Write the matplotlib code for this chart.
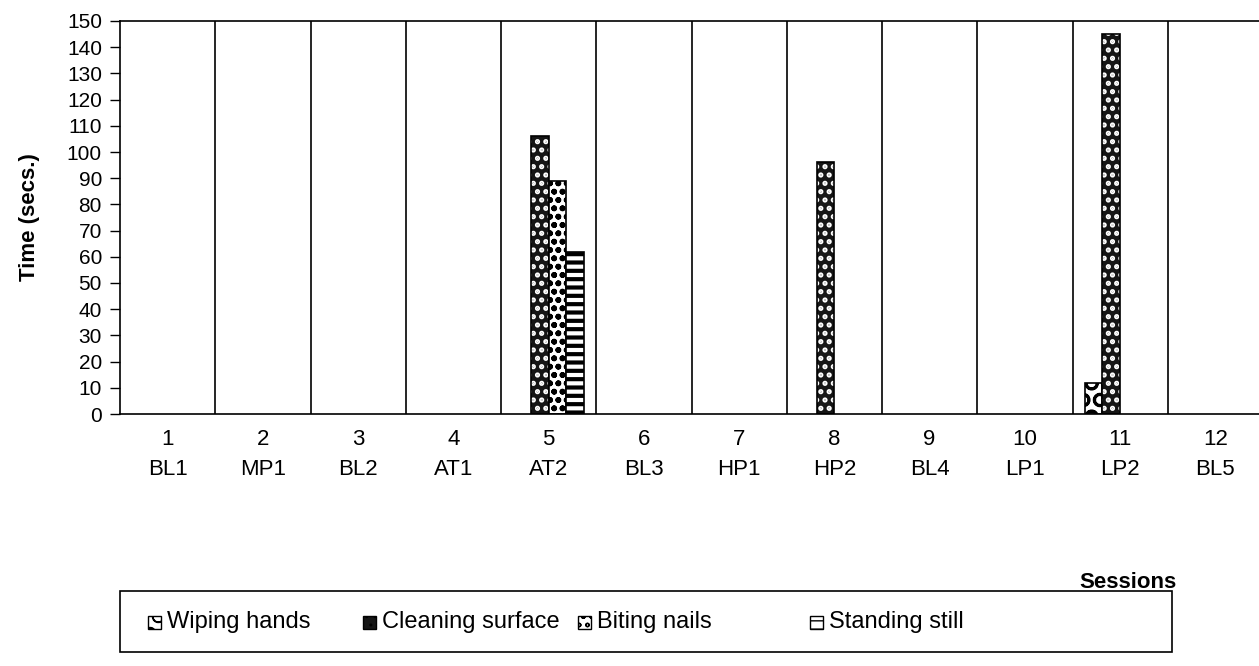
import numpy as np
import matplotlib.pyplot as plt
import matplotlib.patches as mpatches

plt.rcParams['font.family'] = ['Liberation Sans', 'DejaVu Sans']

# ---------------------------------
# Data
# ---------------------------------

session_nums = ["1", "2", "3", "4", "5", "6", "7", "8", "9", "10", "11", "12"]
session_names = ["BL1", "MP1", "BL2", "AT1", "AT2", "BL3", "HP1", "HP2", "BL4", "LP1", "LP2", "BL5"]

wiping_hands = [0, 0, 0, 0, 0, 0, 0, 0, 0, 0, 12, 0]
cleaning_surface = [0, 0, 0, 0, 106, 0, 0, 96, 0, 0, 145, 0]
biting_nails = [0, 0, 0, 0, 89, 0, 0, 0, 0, 0, 0, 0]
standing_still = [0, 0, 0, 0, 62, 0, 0, 0, 0, 0, 0, 0]

series_names = ["Wiping hands", "Cleaning surface", "Biting nails", "Standing still"]

# ---------------------------------
# Figure
# ---------------------------------

W, H = 1259, 666
fig = plt.figure(figsize=(W / 100, H / 100), dpi=100)
ax = fig.add_axes([120 / W, 1 - 414 / H, 1143 / W, 393 / H])

x = np.arange(len(session_nums))
w = 0.186


def lw(vals):
    return [1.2 if v > 0 else 0 for v in vals]


# wiping hands
plt.rcParams['hatch.linewidth'] = 2.0
ax.bar(x - 1.5 * w, wiping_hands, w, color="white", edgecolor="black", hatch="O",
       linewidth=lw(wiping_hands))
# cleaning surface: dark with light spots
plt.rcParams['hatch.linewidth'] = 2.5
ax.bar(x - 0.5 * w, cleaning_surface, w, color="#151515", edgecolor="white", hatch="..",
       linewidth=0)
ax.bar(x - 0.5 * w, cleaning_surface, w, fill=False, edgecolor="black",
       linewidth=lw(cleaning_surface))
# biting nails
plt.rcParams['hatch.linewidth'] = 1.8
ax.bar(x + 0.5 * w, biting_nails, w, color="white", edgecolor="black", hatch="oo",
       linewidth=lw(biting_nails))
# standing still
plt.rcParams['hatch.linewidth'] = 3.0
ax.bar(x + 1.5 * w, standing_still, w, color="white", edgecolor="black", hatch="--",
       linewidth=lw(standing_still))

ax.set_xlim(-0.5, 11.5)
ax.set_ylim(0, 150)
ax.set_yticks(np.arange(0, 151, 10))
ax.tick_params(axis="y", labelsize=15, length=7, width=1, direction="out", pad=6)

ax.set_xticks(x)
ax.set_xticklabels(session_nums, fontsize=16)
ax.tick_params(axis="x", length=0, pad=11)
for i, name in enumerate(session_names):
    ax.text(x[i], -0.14, name, transform=ax.get_xaxis_transform(),
            ha="center", va="center", fontsize=16)

ax.set_xticks(np.arange(0.5, 11.5, 1), minor=True)
ax.tick_params(axis="x", which="minor", length=0)
ax.grid(axis="x", which="minor", color="black", linewidth=1.2)
ax.set_axisbelow(True)

for s in ax.spines.values():
    s.set_linewidth(1.2)
ax.spines["right"].set_visible(False)

ax.set_ylabel("Time (secs.)", fontsize=16, fontweight="bold", labelpad=19)
fig.text(1128 / W, 1 - 582 / H, "Sessions", ha="center", va="center",
         fontsize=16, fontweight="bold")

# ---------------------------------
# Legend (drawn by hand to keep Excel-like column spacing)
# ---------------------------------

frame = mpatches.Rectangle((120 / W, 1 - 652 / H), 1052 / W, 61 / H,
                           transform=fig.transFigure, fill=False,
                           edgecolor="black", linewidth=1.2)
fig.add_artist(frame)

legend_x = [148, 363, 578, 810]
styles = [
    dict(facecolor="white", edgecolor="black", hatch="O"),
    dict(facecolor="#151515", edgecolor="black", hatch=".."),
    dict(facecolor="white", edgecolor="black", hatch="oo"),
    dict(facecolor="white", edgecolor="black", hatch="--"),
]
yc = 1 - 622 / H
sq = 13
for px, name, st in zip(legend_x, series_names, styles):
    plt.rcParams['hatch.linewidth'] = 1.0
    fig.add_artist(mpatches.Rectangle((px / W, yc - sq / 2 / H), sq / W, sq / H,
                                      transform=fig.transFigure, linewidth=1.0, **st))
    fig.text((px + sq + 6) / W, yc, name, ha="left", va="center", fontsize=17)

fig.savefig("out.png", dpi=100)
